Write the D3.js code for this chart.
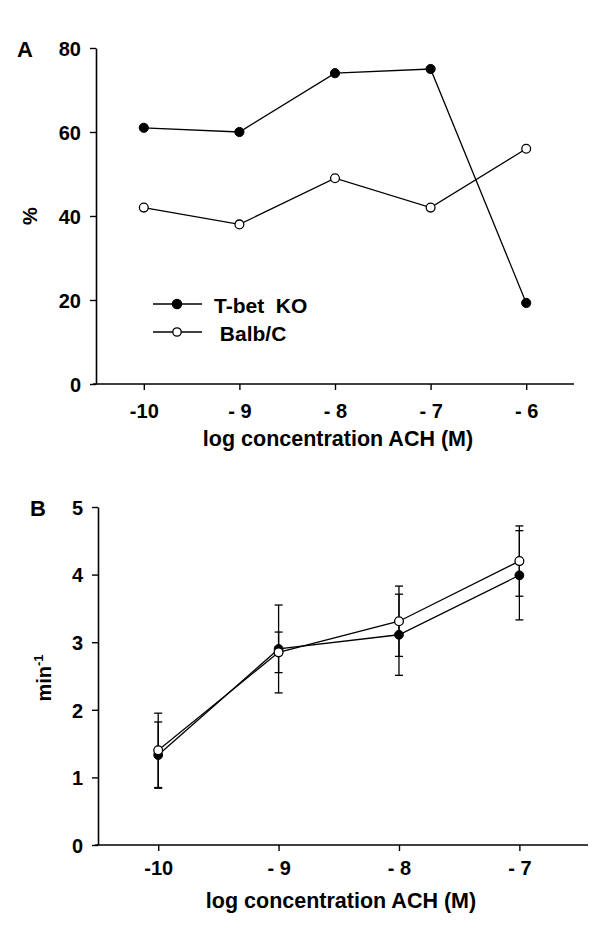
<!DOCTYPE html>
<html><head><meta charset="utf-8">
<script src="https://cdn.jsdelivr.net/npm/d3@7"></script>
<style>
body{margin:0;background:#fff;}
text{font-family:"Liberation Sans",Arial,sans-serif;font-weight:bold;fill:#000;}
</style></head>
<body>
<svg id="c" width="600" height="937"></svg>
<script>
// Panel A data
const concA = [-10, -9, -8, -7, -6];
const tickLabelsA = ["-10", "- 9", "- 8", "- 7", "- 6"];
const tbetA = [61, 60, 74, 75, 19.3];
const balbA = [42, 38, 49, 42, 56];
const yTicksA = [0, 20, 40, 60, 80];

// Panel B data
const concB = [-10, -9, -8, -7];
const tickLabelsB = ["-10", "- 9", "- 8", "- 7"];
const tbetB = [1.33, 2.9, 3.11, 3.99];
const tbetBErr = [0.49, 0.65, 0.6, 0.66];
const balbB = [1.4, 2.85, 3.31, 4.2];
const balbBErr = [0.55, 0.3, 0.52, 0.52];
const yTicksB = [0, 1, 2, 3, 4, 5];

const seriesNames = ["T-bet  KO", " Balb/C"];
const xTitle = "log concentration ACH (M)";

const svg = d3.select("#c");

function styleAxis(g){
  g.select(".domain").attr("stroke","#000").attr("stroke-width",1.6);
  g.selectAll(".tick line").attr("stroke","#000").attr("stroke-width",1.4);
  g.selectAll(".tick text").attr("font-size",20).attr("font-family","Liberation Sans, Arial, sans-serif").attr("font-weight","bold");
}

function drawPanel(o){
  const x = d3.scaleLinear().domain(o.xDomain).range(o.xRange);
  const y = d3.scaleLinear().domain(o.yDomain).range(o.yRange);
  const gx = svg.append("g").attr("transform",`translate(0,${o.yRange[0]})`)
    .call(d3.axisBottom(x).tickValues(o.conc).tickFormat((d,i)=>o.tickLabels[i]).tickSize(6).tickSizeOuter(0).tickPadding(o.xPad));
  styleAxis(gx);
  gx.select(".domain").attr("d",`M${o.xRange[0]-3},0H${o.xRange[1]}`);
  const gy = svg.append("g").attr("transform",`translate(${o.xRange[0]},0)`)
    .call(d3.axisLeft(y).tickValues(o.yTicks).tickFormat(d3.format("d")).tickSize(6).tickSizeOuter(0).tickPadding(9));
  styleAxis(gy);
  gy.selectAll(".tick text").attr("dy","0.36em");
  return {x,y};
}

// ---- Panel A
const A = drawPanel({xDomain:[-10.5,-5.5], xRange:[96,574], yDomain:[0,80], yRange:[384,48],
  conc:concA, tickLabels:tickLabelsA, yTicks:yTicksA, xPad:14});
const lineA = d3.line().x((d,i)=>A.x(concA[i])).y(d=>A.y(d));
svg.append("path").datum(tbetA).attr("d",lineA).attr("fill","none").attr("stroke","#000").attr("stroke-width",1.3);
svg.append("path").datum(balbA).attr("d",lineA).attr("fill","none").attr("stroke","#000").attr("stroke-width",1.3);
svg.selectAll(".ta").data(tbetA).enter().append("circle")
  .attr("cx",(d,i)=>A.x(concA[i])).attr("cy",d=>A.y(d)).attr("r",4.6).attr("fill","#000").attr("stroke","#000");
svg.selectAll(".ba").data(balbA).enter().append("circle")
  .attr("cx",(d,i)=>A.x(concA[i])).attr("cy",d=>A.y(d)).attr("r",4.4).attr("fill","#fff").attr("stroke","#000").attr("stroke-width",1.3);

svg.append("text").attr("x",17).attr("y",57).attr("font-size",22).text("A");
svg.append("text").attr("transform","translate(37,216) rotate(-90)").attr("text-anchor","middle").attr("font-size",20).text("%");
svg.append("text").attr("x",338).attr("y",446).attr("text-anchor","middle").attr("font-size",21.5).text(xTitle);

// Legend
const legY = [304, 332];
[0,1].forEach(i=>{
  svg.append("line").attr("x1",153).attr("x2",202).attr("y1",legY[i]).attr("y2",legY[i]).attr("stroke","#000").attr("stroke-width",1.3);
  svg.append("circle").attr("cx",177).attr("cy",legY[i]).attr("r",i===0?4.6:4.2)
    .attr("fill",i===0?"#000":"#fff").attr("stroke","#000").attr("stroke-width",1.3);
  svg.append("text").attr("x",214).attr("y",legY[i]+8.5).attr("font-size",21).style("white-space","pre").text(seriesNames[i]);
});

// ---- Panel B
const B = drawPanel({xDomain:[-10.5,-6.43], xRange:[98,588], yDomain:[0,5], yRange:[845,507],
  conc:concB, tickLabels:tickLabelsB, yTicks:yTicksB, xPad:10});
const lineB = d3.line().x((d,i)=>B.x(concB[i])).y(d=>B.y(d));

function errBars(vals, errs){
  vals.forEach((v,i)=>{
    const cx = B.x(concB[i]);
    svg.append("line").attr("x1",cx).attr("x2",cx).attr("y1",B.y(v-errs[i])).attr("y2",B.y(v+errs[i])).attr("stroke","#000").attr("stroke-width",1.3);
    [v-errs[i], v+errs[i]].forEach(e=>{
      svg.append("line").attr("x1",cx-4).attr("x2",cx+4).attr("y1",B.y(e)).attr("y2",B.y(e)).attr("stroke","#000").attr("stroke-width",1.3);
    });
  });
}
errBars(tbetB, tbetBErr);
errBars(balbB, balbBErr);
svg.append("path").datum(tbetB).attr("d",lineB).attr("fill","none").attr("stroke","#000").attr("stroke-width",1.3);
svg.append("path").datum(balbB).attr("d",lineB).attr("fill","none").attr("stroke","#000").attr("stroke-width",1.3);
svg.selectAll(".tb").data(tbetB).enter().append("circle")
  .attr("cx",(d,i)=>B.x(concB[i])).attr("cy",d=>B.y(d)).attr("r",4.4).attr("fill","#000").attr("stroke","#000");
svg.selectAll(".bb").data(balbB).enter().append("circle")
  .attr("cx",(d,i)=>B.x(concB[i])).attr("cy",d=>B.y(d)).attr("r",4.4).attr("fill","#fff").attr("stroke","#000").attr("stroke-width",1.3);

svg.append("text").attr("x",30).attr("y",516).attr("font-size",22).text("B");
const mt = svg.append("text").attr("transform","translate(51,678) rotate(-90)").attr("text-anchor","middle").attr("font-size",20);
mt.append("tspan").text("min");
mt.append("tspan").attr("dy",-8).attr("font-size",13).text("-1");
svg.append("text").attr("x",341).attr("y",908).attr("text-anchor","middle").attr("font-size",21.5).text(xTitle);
</script>
</body></html>
